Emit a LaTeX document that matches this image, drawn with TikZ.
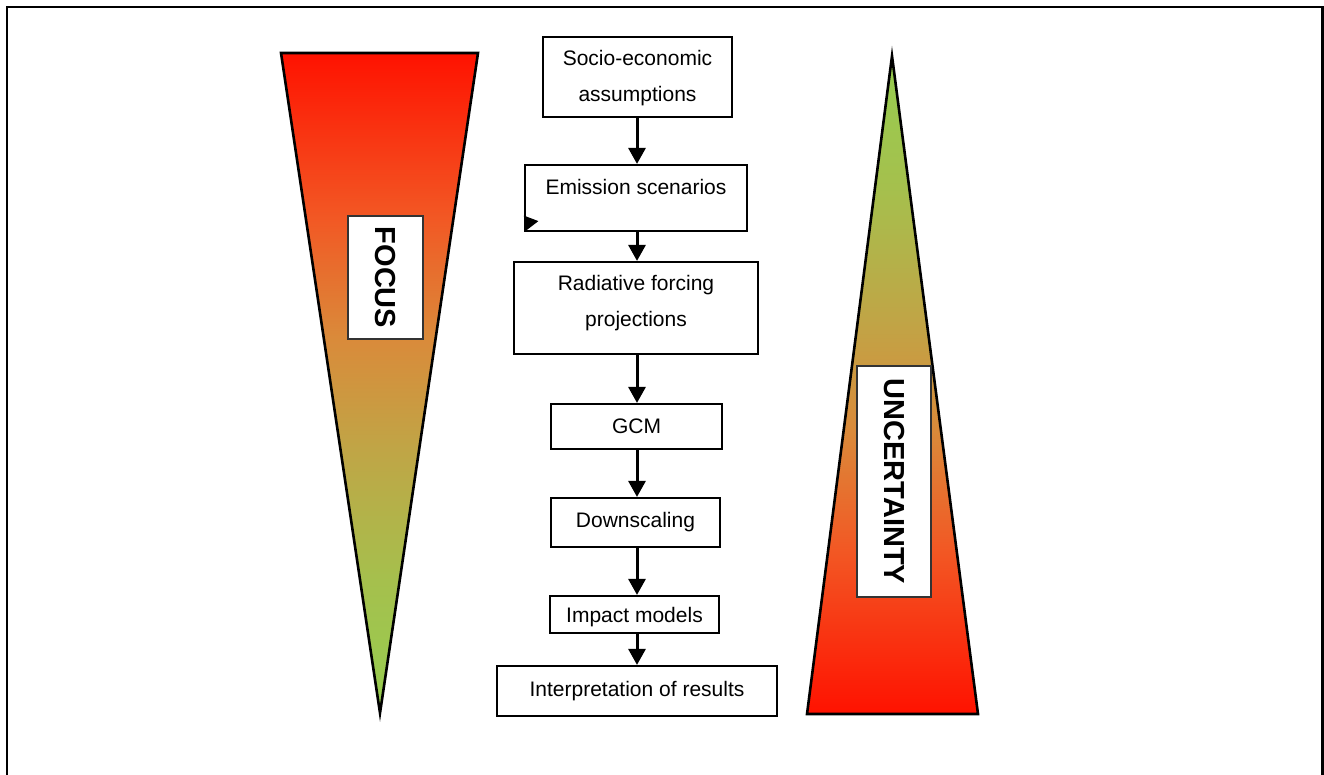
\documentclass[tikz,border=0pt]{standalone}
\usepackage{fontspec}
\setmainfont{Liberation Sans}
\usetikzlibrary{arrows.meta}

% gradient colours, from the red end to the green end
\definecolor{gradA}{RGB}{255,18,0}
\definecolor{gradB}{RGB}{242,88,36}
\definecolor{gradC}{RGB}{218,138,58}
\definecolor{gradD}{RGB}{192,165,70}
\definecolor{gradE}{RGB}{165,192,77}
\definecolor{gradF}{RGB}{150,205,80}

% red on top, green at the bottom (path box maps to 25bp..75bp)
\pgfdeclareverticalshading{redtogreen}{100bp}{%
  color(0bp)=(gradF); color(25bp)=(gradF); color(35bp)=(gradE);
  color(45bp)=(gradD); color(53.5bp)=(gradC); color(62.5bp)=(gradB);
  color(75bp)=(gradA); color(100bp)=(gradA)}
% green on top, red at the bottom
\pgfdeclareverticalshading{greentored}{100bp}{%
  color(0bp)=(gradA); color(25bp)=(gradA); color(37.5bp)=(gradB);
  color(46.5bp)=(gradC); color(55bp)=(gradD); color(65bp)=(gradE);
  color(75bp)=(gradF); color(100bp)=(gradF)}

\begin{document}
\begin{tikzpicture}[x=1pt,y=-1pt,
  box/.style={draw=black, line width=2.2pt, fill=white, inner sep=0pt,
    align=center, font=\fontsize{21pt}{36pt}\selectfont},
  arr/.style={line width=3pt, -{Triangle[width=17pt,length=16pt]}},
  wedge/.style={draw=black, line width=2.6pt, line join=miter},
  tag/.style={draw=black!80, line width=1.3pt, fill=white, inner sep=0pt,
    rotate=-90, font=\fontsize{29pt}{34pt}\selectfont\bfseries}]

\clip (0,0) rectangle (1324,774);

% frame
\draw[line width=2.6pt] (7,790) -- (7,7) -- (1322.5,7) -- (1322.5,790);

% FOCUS wedge
\coordinate (f1) at (281,53);
\coordinate (f2) at (478,53);
\coordinate (f3) at (380,713);
\shade[shading=redtogreen] (f1) -- (f2) -- (f3) -- cycle;
\draw[wedge] (f1) -- (f2) -- (f3) -- cycle;
\node[tag, minimum width=123pt, minimum height=75pt] (focus) at (385.5,277.5) {FOCUS};

% UNCERTAINTY wedge
\coordinate (u1) at (892,56);
\coordinate (u2) at (978,714);
\coordinate (u3) at (807,714);
\shade[shading=greentored] (u1) -- (u2) -- (u3) -- cycle;
\draw[wedge] (u1) -- (u2) -- (u3) -- cycle;
\node[tag, minimum width=231pt, minimum height=74pt] (unc) at (894,481.5) {UNCERTAINTY};

% modelling chain
\node[box, minimum width=189pt, minimum height=80pt, text height=51pt, text depth=3pt]
  (socio) at (637.5,77) {Socio-economic\\assumptions};
\node[box, minimum width=222pt, minimum height=66pt, text height=15pt, text depth=22pt]
  (emis) at (636,198) {Emission scenarios};
\node[box, minimum width=244pt, minimum height=92pt, text height=51pt, text depth=15pt]
  (rad) at (636,308) {Radiative forcing\\projections};
\node[box, minimum width=171pt, minimum height=45pt] (gcm) at (636.5,426.5) {GCM};
\node[box, minimum width=169pt, minimum height=49pt] (down) at (635.5,522.5) {Downscaling};
\node[box, minimum width=169pt, minimum height=37pt, text height=15pt, text depth=0pt]
  (impact) at (634.5,614.5) {Impact models};
\node[box, minimum width=280pt, minimum height=50pt] (interp) at (637,691) {Interpretation of results};

% stray arrow tip in the corner of the emission box
\fill[black] ([shift={(0,-16.5)}]emis.south west) -- ([shift={(14.5,-11)}]emis.south west)
  -- ([shift={(1.5,-1)}]emis.south west) -- cycle;

% connectors
\coordinate (ax) at (637,0);
\draw[arr] (socio.south -| ax) -- (emis.north -| ax);
\draw[arr] (emis.south -| ax) -- (rad.north -| ax);
\draw[arr] (rad.south -| ax) -- (gcm.north -| ax);
\draw[arr] (gcm.south -| ax) -- (down.north -| ax);
\draw[arr] (down.south -| ax) -- (impact.north -| ax);
\draw[arr] (impact.south -| ax) -- (interp.north -| ax);
\end{tikzpicture}
\end{document}
